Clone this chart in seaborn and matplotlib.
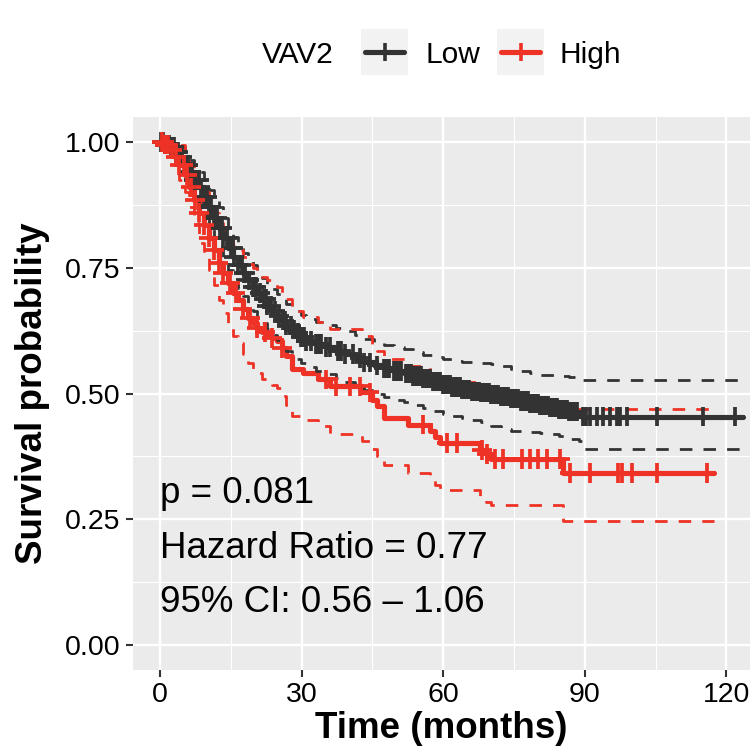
import numpy as np
import pandas as pd
import matplotlib
matplotlib.use("Agg")
import matplotlib.pyplot as plt
import seaborn as sns
from matplotlib.patches import Rectangle
from matplotlib.lines import Line2D

# ---------------- data ----------------
legend_title = "VAV2"
groups = ["Low", "High"]

low_time = [0, 1, 2.1, 3.1, 4.1, 5.2, 6.2, 7.2, 8.3, 9.3, 10.3, 11.4, 12.4, 13.4, 14.4,
            15.5, 16.5, 17.5, 18.6, 19.6, 20.6, 21.7, 22.7, 23.7, 24.8, 25.8, 26.8, 27.9,
            28.9, 29.9, 31, 33, 35.1, 37.2, 39.2, 41.3, 43.3, 45.4, 47.5, 49.5, 51.6, 53.7,
            55.7, 57.8, 59.9, 61.9, 64, 66, 68.1, 70.2, 72.2, 74.3, 76.4, 78.4, 80.5, 82.6,
            84.6, 86.7, 88.8, 89.5, 123.5]
low_surv = [1.0, 0.995, 0.99, 0.98, 0.97, 0.955, 0.94, 0.925, 0.91, 0.89, 0.87, 0.85, 0.83,
            0.81, 0.79, 0.772, 0.755, 0.74, 0.725, 0.712, 0.70, 0.688, 0.675, 0.665, 0.655,
            0.645, 0.635, 0.627, 0.62, 0.612, 0.605, 0.598, 0.592, 0.585, 0.578, 0.57, 0.562,
            0.556, 0.55, 0.545, 0.54, 0.535, 0.53, 0.524, 0.518, 0.513, 0.508, 0.504, 0.502,
            0.498, 0.494, 0.49, 0.485, 0.48, 0.476, 0.472, 0.468, 0.464, 0.46, 0.454, 0.454]
low_upper = [1.0, 1.0, 1.0, 1.0, 0.99, 0.98, 0.965, 0.955, 0.94, 0.925, 0.905, 0.89, 0.87,
             0.85, 0.83, 0.812, 0.795, 0.78, 0.767, 0.755, 0.742, 0.73, 0.718, 0.708, 0.698,
             0.688, 0.678, 0.67, 0.664, 0.656, 0.648, 0.642, 0.636, 0.63, 0.624, 0.616, 0.608,
             0.602, 0.596, 0.592, 0.588, 0.582, 0.576, 0.572, 0.568, 0.565, 0.562, 0.562, 0.56,
             0.558, 0.555, 0.548, 0.544, 0.54, 0.536, 0.536, 0.534, 0.532, 0.53, 0.527, 0.527]
low_lower = [1.0, 0.99, 0.98, 0.97, 0.955, 0.935, 0.915, 0.895, 0.875, 0.855, 0.83, 0.81,
             0.788, 0.766, 0.745, 0.727, 0.71, 0.694, 0.678, 0.665, 0.652, 0.64, 0.628, 0.617,
             0.607, 0.595, 0.585, 0.576, 0.568, 0.56, 0.552, 0.545, 0.538, 0.53, 0.522, 0.515,
             0.507, 0.5, 0.494, 0.488, 0.484, 0.478, 0.472, 0.465, 0.46, 0.455, 0.452, 0.448,
             0.444, 0.436, 0.43, 0.426, 0.424, 0.424, 0.422, 0.42, 0.415, 0.41, 0.405, 0.39, 0.39]
low_censor = [0.3, 0.6, 1, 1.5, 2.0, 2.3, 2.9, 3.4, 3.8, 4.1, 4.7, 5.4, 6, 6.4, 6.7, 7.2, 7.8,
              8.2, 8.6, 9.3, 9.9, 10.3, 10.7, 11.4, 12.1, 12.8, 13.1, 13.4, 14.2, 15, 15.4,
              15.7, 16.5, 17.3, 17.7, 18.1, 18.9, 19.6, 20.0, 20.4, 21.2, 22, 22.4, 22.7, 23.5,
              24.4, 25.2, 26, 26.4, 26.8, 27.7, 28.4, 29.2, 29.9, 30.5, 31, 32, 33, 33.6, 34.1,
              35.1, 36.1, 37.7, 38.4, 39.2, 40.8, 42.3, 43.3, 44.4, 45.9, 47.5, 48.0, 48.5,
              49.5, 50.1, 50.6, 51.1, 52.1, 52.6, 53.2, 53.7, 54.2, 54.7, 55.2, 55.7, 56.3,
              56.8, 57.3, 57.8, 58.3, 58.8, 59.4, 59.9, 60.4, 60.9, 61.4, 61.9, 62.5, 63, 63.5,
              64, 64.5, 65, 65.5, 66, 66.6, 67.1, 67.6, 68.1, 68.6, 69.1, 69.7, 70.2, 70.7,
              71.2, 71.7, 72.2, 72.8, 73.3, 73.8, 74.3, 74.8, 75.3, 75.9, 76.4, 76.9, 77.4,
              77.9, 78.4, 79.0, 79.5, 80.0, 80.5, 81.0, 81.5, 82.1, 82.6, 83.1, 83.6, 84.1,
              84.6, 85.2, 85.7, 86.2, 86.7, 87.2, 87.7, 88.3, 89.6, 90.3, 91.1, 92.6, 93.9,
              95.3, 96.8, 97.5, 98.9, 105.3, 115, 121.8]

high_time = [0, 1, 2.1, 3.1, 4.1, 5.2, 6.2, 7.2, 8.3, 9.3, 10.3, 11.4, 12.4, 13.4, 14.4, 15.5,
             16.5, 17.5, 18.6, 19.6, 20.6, 21.7, 22.7, 23.7, 24.8, 25.8, 26.8, 27.9, 30.4,
             33.5, 36.1, 42.8, 44.9, 45.9, 47.5, 52.6, 57.2, 58.3, 59.3, 67.8, 69.1, 70.2,
             85.4, 117.4]
high_surv = [1.0, 0.995, 0.985, 0.97, 0.955, 0.935, 0.91, 0.885, 0.86, 0.835, 0.81, 0.785,
             0.76, 0.74, 0.72, 0.70, 0.685, 0.668, 0.65, 0.64, 0.63, 0.622, 0.615, 0.61, 0.604,
             0.59, 0.575, 0.548, 0.54, 0.528, 0.514, 0.502, 0.488, 0.475, 0.452, 0.438, 0.425,
             0.414, 0.402, 0.388, 0.38, 0.37, 0.342, 0.342]
high_upper = [1.0, 1.0, 1.0, 1.0, 0.995, 0.98, 0.955, 0.94, 0.925, 0.9, 0.88, 0.86, 0.84,
              0.825, 0.81, 0.795, 0.785, 0.772, 0.758, 0.75, 0.74, 0.732, 0.725, 0.718, 0.712,
              0.70, 0.688, 0.665, 0.652, 0.642, 0.628, 0.615, 0.598, 0.585, 0.568, 0.555, 0.54,
              0.53, 0.522, 0.508, 0.5, 0.49, 0.47, 0.47]
high_lower = [1.0, 0.99, 0.97, 0.95, 0.925, 0.9, 0.87, 0.84, 0.80, 0.775, 0.745, 0.715, 0.685,
              0.66, 0.635, 0.615, 0.6, 0.578, 0.56, 0.548, 0.54, 0.528, 0.522, 0.516, 0.51,
              0.495, 0.478, 0.455, 0.448, 0.435, 0.42, 0.405, 0.39, 0.375, 0.358, 0.342, 0.33,
              0.318, 0.308, 0.295, 0.285, 0.278, 0.246, 0.246]
high_censor = [0.4, 1, 1.8, 2.5, 3.3, 4.1, 5, 5.8, 6.6, 7.4, 8.3, 9.3, 10.3, 11.4, 12.4, 13.4,
               14.8, 16, 17.5, 19.1, 20.6, 22.2, 23.7, 25.8, 35.1, 37.2, 40.2, 42.3, 44.4,
               55.7, 60.8, 62.9, 68.2, 69.2, 71, 72.7, 76.6, 78.4, 80.1, 81.9, 84.7, 86.9,
               91.1, 97, 97.8, 99.9, 105.2, 115.8]

x_ticks = [0, 30, 60, 90, 120]
x_minor = [15, 45, 75, 105]
y_ticks = [0.00, 0.25, 0.50, 0.75, 1.00]
y_minor = [0.125, 0.375, 0.625, 0.875]
y_tick_labels = ["0.00", "0.25", "0.50", "0.75", "1.00"]
annotations = ["p = 0.081", "Hazard Ratio = 0.77", "95% CI: 0.56 \u2013 1.06"]
palette = {"Low": "#333333", "High": "#EE3226"}

# ---------------- build tables ----------------
def curve_df(name, t, s, up, lo):
    return pd.DataFrame({"time": t, "surv": s, "upper": up, "lower": lo, "group": name})

def censor_df(name, ct, t, s):
    t = np.asarray(t); s = np.asarray(s)
    idx = np.searchsorted(t, np.asarray(ct), side="right") - 1
    return pd.DataFrame({"time": ct, "surv": s[idx], "group": name})

curves = pd.concat([curve_df("Low", low_time, low_surv, low_upper, low_lower),
                    curve_df("High", high_time, high_surv, high_upper, high_lower)],
                   ignore_index=True)
censors = pd.concat([censor_df("Low", low_censor, low_time, low_surv),
                     censor_df("High", high_censor, high_time, high_surv)],
                    ignore_index=True)

# ---------------- plot ----------------
sns.set_theme(style="darkgrid")
plt.rcParams["font.family"] = ["Liberation Sans", "DejaVu Sans"]

W = H = 756
fig = plt.figure(figsize=(7.56, 7.56), dpi=100)
L, R, T, B = 133, 750, 117, 670
ax = fig.add_axes([L / W, 1 - B / H, (R - L) / W, (B - T) / H])
ax.set_facecolor("#EBEBEB")
for sp in ax.spines.values():
    sp.set_visible(False)

sns.lineplot(data=curves, x="time", y="surv", hue="group", hue_order=groups,
             palette=palette, estimator=None, sort=False, drawstyle="steps-post",
             linewidth=3.7, legend=False, ax=ax)
for col in ["upper", "lower"]:
    sns.lineplot(data=curves, x="time", y=col, hue="group", hue_order=groups,
                 palette=palette, estimator=None, sort=False, drawstyle="steps-post",
                 linewidth=2.0, linestyle=(0, (4.5, 4)), legend=False, ax=ax)
sns.scatterplot(data=censors, x="time", y="surv", hue="group", hue_order=groups,
                palette=palette, marker="+", s=200, linewidth=2.7, legend=False, ax=ax,
                zorder=5)

ax.set_xlim(-5.72, 125.0)
ax.set_ylim(-0.05, 1.05)
ax.set_xticks(x_ticks)
ax.set_xticks(x_minor, minor=True)
ax.set_yticks(y_ticks)
ax.set_yticks(y_minor, minor=True)
ax.set_yticklabels(y_tick_labels)
ax.grid(which="major", color="white", linewidth=1.7)
ax.grid(which="minor", color="white", linewidth=0.85)
ax.set_axisbelow(True)
ax.tick_params(which="major", length=5, width=1.5, color="#333333", labelsize=20.5,
               labelcolor="black", pad=4, bottom=True, left=True)
ax.tick_params(which="minor", length=0)
ax.set_xlabel("Time (months)", fontsize=26.5, fontweight="bold", labelpad=2, color="black")
ax.set_ylabel("Survival probability", fontsize=26.5, fontweight="bold", labelpad=11,
              color="black")

base = [0.282, 0.173, 0.0656]
for txt, yb in zip(annotations, base):
    ax.text(0, yb, txt, fontsize=26.5, ha="left", va="baseline", color="black")

# legend drawn at the top (ggplot style)
def fx(px):
    return px / W
def fy(py):
    return 1 - py / H

fig.text(fx(262), fy(63), legend_title, fontsize=21.5, va="baseline", ha="left", color="black")
keys = [("Low", 361, 425), ("High", 497, 560)]
for g, kx, tx in keys:
    fig.patches.append(Rectangle((fx(kx), fy(75)), 47 / W, 46 / H, transform=fig.transFigure,
                                 facecolor="#F2F2F2", edgecolor="none"))
    fig.lines.append(Line2D([fx(kx + 4), fx(kx + 43)], [fy(52), fy(52)], transform=fig.transFigure,
                            color=palette[g], linewidth=3.7))
    fig.lines.append(Line2D([fx(kx + 23.5)], [fy(52)], transform=fig.transFigure,
                            color=palette[g], marker="+", markersize=13, markeredgewidth=2.6,
                            linestyle="none"))
    fig.text(fx(tx), fy(63), g, fontsize=21.5, va="baseline", ha="left", color="black")

fig.savefig("out.png", dpi=100)
